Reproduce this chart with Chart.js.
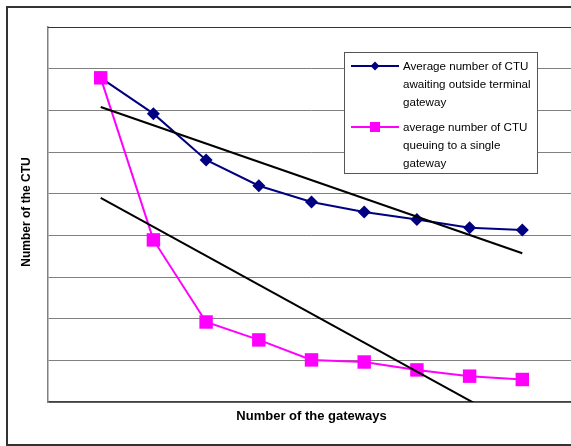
<!DOCTYPE html>
<html><head><meta charset="utf-8">
<script src="https://cdn.jsdelivr.net/npm/chart.js@4/dist/chart.umd.min.js"></script>
<style>
html,body{margin:0;padding:0;background:#fff;overflow:hidden;}
#wrap{position:relative;width:571px;height:446px;overflow:hidden;}
#c{position:absolute;left:0;top:0;}
</style></head><body>
<div id="wrap"><canvas id="c" width="620" height="446" style="width:620px;height:446px"></canvas></div>
<script>
const gateways = [1, 2, 3, 4, 5, 6, 7, 8, 9];
const awaitingOutside = [7.78, 6.92, 5.81, 5.19, 4.80, 4.56, 4.38, 4.18, 4.13];
const queuingSingle = [7.78, 3.89, 1.92, 1.49, 1.01, 0.96, 0.77, 0.62, 0.54];
const trendX = [1, 9];
const trendAwaiting = [7.08, 3.57];
const trendQueuing = [4.90, -0.66];
const seriesLabels = [
  ["Average number of CTU", "awaiting outside terminal", "gateway"],
  ["average number of CTU", "queuing to a single", "gateway"]
];
const xTitle = "Number of the gateways";
const yTitle = "Number of the CTU";

const FONT = "'Liberation Sans', Arial, sans-serif";
const BLUE = '#000080', PINK = '#FF00FF';

const pts = (xs, ys) => xs.map((x, i) => ({x: x, y: ys[i]}));

const decor = {
  id: 'decor',
  afterDraw(chart) {
    const ctx = chart.ctx, a = chart.chartArea;
    ctx.save();
    ctx.strokeStyle = '#333'; ctx.lineWidth = 2;
    ctx.strokeRect(7, 7, 640, 438);
    ctx.strokeStyle = '#333'; ctx.lineWidth = 1.2;
    ctx.beginPath(); ctx.moveTo(a.left, a.top + 0.5); ctx.lineTo(a.right, a.top + 0.5); ctx.stroke();
    ctx.fillStyle = '#000';
    ctx.textAlign = 'center'; ctx.textBaseline = 'middle';
    ctx.font = 'bold 13px ' + FONT;
    ctx.fillText(xTitle, (a.left + a.right) / 2, 416);
    ctx.save();
    ctx.translate(27, 212);
    ctx.rotate(-Math.PI / 2);
    ctx.font = 'bold 12px ' + FONT;
    ctx.fillText(yTitle, 0, 0);
    ctx.restore();
    const lx = 344.5, ly = 52.5, lw = 193, lh = 121;
    ctx.fillStyle = '#fff'; ctx.fillRect(lx, ly, lw, lh);
    ctx.strokeStyle = '#555'; ctx.lineWidth = 1; ctx.strokeRect(lx, ly, lw, lh);
    const rows = [
      {color: BLUE, style: 'diamond', y: 66, lines: seriesLabels[0], ty: [67, 85, 103]},
      {color: PINK, style: 'square', y: 127, lines: seriesLabels[1], ty: [127.5, 146, 164]}
    ];
    rows.forEach(r => {
      ctx.strokeStyle = r.color; ctx.lineWidth = 2;
      ctx.beginPath(); ctx.moveTo(351, r.y); ctx.lineTo(399, r.y); ctx.stroke();
      ctx.fillStyle = r.color;
      if (r.style === 'diamond') {
        ctx.beginPath(); ctx.moveTo(375, r.y - 4.5); ctx.lineTo(379.5, r.y); ctx.lineTo(375, r.y + 4.5); ctx.lineTo(370.5, r.y); ctx.closePath(); ctx.fill();
      } else {
        ctx.fillRect(370, r.y - 5, 10, 10);
      }
      ctx.fillStyle = '#000'; ctx.textAlign = 'left'; ctx.textBaseline = 'middle';
      ctx.font = '11.6px ' + FONT;
      r.lines.forEach((t, i) => ctx.fillText(t, 403, r.ty[i]));
    });
    ctx.restore();
  }
};

new Chart(document.getElementById('c'), {
  type: 'scatter',
  data: {
    datasets: [
      {label: 'trend awaiting', data: pts(trendX, trendAwaiting), showLine: true, borderColor: '#000', borderWidth: 2, pointRadius: 0},
      {label: 'trend queuing', data: pts(trendX, trendQueuing), showLine: true, borderColor: '#000', borderWidth: 2, pointRadius: 0},
      {label: seriesLabels[1].join(' '), data: pts(gateways, queuingSingle), showLine: true, borderColor: PINK, backgroundColor: PINK, borderWidth: 2, pointStyle: 'rect', pointRadius: 9.5, pointBorderWidth: 0},
      {label: seriesLabels[0].join(' '), data: pts(gateways, awaitingOutside), showLine: true, borderColor: BLUE, backgroundColor: BLUE, borderWidth: 2, pointStyle: 'rectRot', pointRadius: 6.5, pointBorderWidth: 0}
    ]
  },
  options: {
    responsive: false,
    devicePixelRatio: 1,
    animation: false,
    layout: {padding: {left: 48, top: 27, right: 45, bottom: 44}},
    plugins: {legend: {display: false}, tooltip: {enabled: false}, title: {display: false}},
    scales: {
      x: {
        type: 'linear', min: 0, max: 10,
        ticks: {display: false},
        grid: {display: true, color: 'rgba(0,0,0,0)', drawTicks: false},
        border: {display: true, color: '#404040', width: 1.5},
        afterFit(s) { s.height = 0; }
      },
      y: {
        type: 'linear', min: 0, max: 9,
        ticks: {display: false, stepSize: 1},
        grid: {color: '#808080', lineWidth: 1, drawTicks: false},
        border: {display: true, color: '#808080', width: 1.5},
        afterFit(s) { s.width = 0; }
      }
    }
  },
  plugins: [decor]
});
</script>
</body></html>
